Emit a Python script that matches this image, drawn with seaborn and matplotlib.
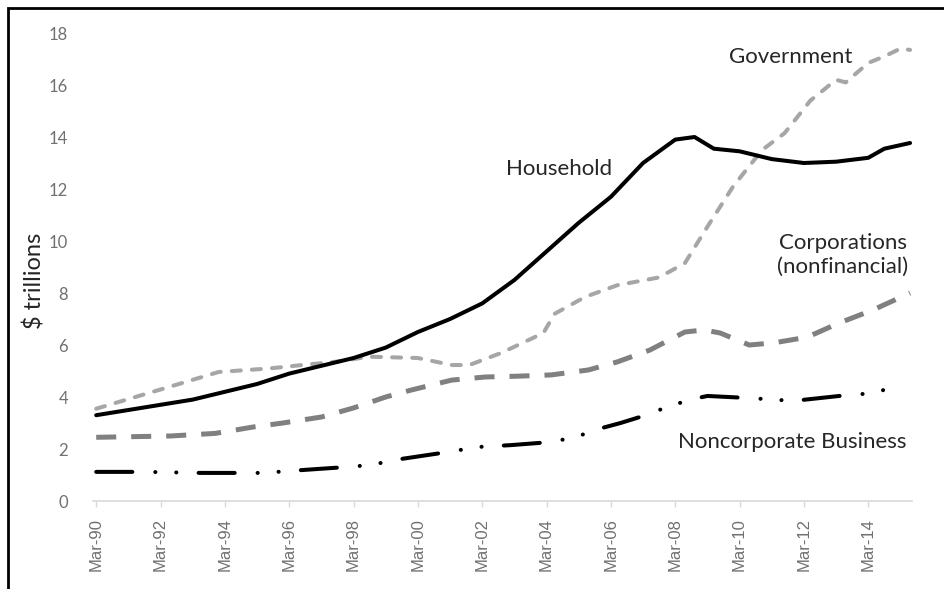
"""Debt outstanding by sector, 1990-2015."""

import matplotlib.pyplot as plt
import matplotlib.patches as mpatches
import seaborn as sns

sns.set_theme(style="white")
plt.rcParams["font.family"] = ["Lato", "DejaVu Sans"]
plt.rcParams["lines.scale_dashes"] = False

# x is years since Mar-1990
tick_pos = list(range(0, 25, 2))
tick_labels = ["Mar-90", "Mar-92", "Mar-94", "Mar-96", "Mar-98", "Mar-00", "Mar-02",
               "Mar-04", "Mar-06", "Mar-08", "Mar-10", "Mar-12", "Mar-14"]

household_x = [0, 1, 2, 3, 4, 5, 6, 7, 8, 9, 10, 11, 12, 13, 14, 15, 16, 17, 18, 18.6,
               19.2, 20, 21, 22, 23, 24, 24.5, 25.3]
household_y = [3.3, 3.5, 3.7, 3.9, 4.2, 4.5, 4.9, 5.2, 5.5, 5.9, 6.5, 7.0, 7.6, 8.5, 9.6,
               10.7, 11.7, 13.0, 13.9, 14.0, 13.55, 13.45, 13.15, 13.0, 13.05, 13.2, 13.55, 13.77]

government_x = [0, 2.3, 3.8, 5.4, 6.4, 7.4, 8.5, 10.0, 11.05, 11.6, 12.6, 13.9, 14.25, 15.2,
                16.2, 17.5, 18.3, 19.0, 19.8, 20.7, 21.4, 22.2, 23.0, 23.3, 24.0, 24.5, 25.0, 25.3]
government_y = [3.55, 4.4, 4.96, 5.1, 5.23, 5.35, 5.55, 5.5, 5.23, 5.23, 5.7, 6.46, 7.2, 7.85,
                8.3, 8.6, 9.15, 10.55, 12.1, 13.5, 14.15, 15.4, 16.2, 16.1, 16.85, 17.1, 17.4, 17.35]

corp_x = [0, 2.3, 3.7, 4.9, 5.8, 7.0, 8.0, 9.0, 9.8, 11.05, 12.1, 13.1, 14.15, 15.3, 16.2,
          17.2, 18.3, 18.9, 19.4, 20.3, 21.05, 22.1, 23.1, 24.15, 25.3]
corp_y = [2.45, 2.5, 2.6, 2.85, 3.0, 3.23, 3.58, 4.0, 4.27, 4.65, 4.77, 4.8, 4.85, 5.04, 5.35,
          5.8, 6.5, 6.58, 6.46, 6.0, 6.08, 6.3, 6.85, 7.35, 8.0]

noncorp_x = [0, 1.5, 3.3, 5.2, 6.4, 7.7, 8.5, 9.5, 10.75, 11.9, 12.9, 14.15, 14.9, 15.7, 16.3,
             16.9, 17.5, 18.4, 19.0, 20.3, 21.3, 21.9, 23.1, 24.15, 24.7]
noncorp_y = [1.12, 1.12, 1.08, 1.08, 1.19, 1.3, 1.38, 1.62, 1.85, 2.08, 2.15, 2.27, 2.46, 2.8,
             3.0, 3.23, 3.5, 3.88, 4.04, 3.96, 3.88, 3.88, 4.04, 4.15, 4.35]

fig = plt.figure(figsize=(9.45, 5.89), dpi=100)
ax = fig.add_axes([93 / 945, 1 - 501 / 589, (912 - 93) / 945, (501 - 33) / 589])

sns.lineplot(x=government_x, y=government_y, ax=ax, color="#a6a6a6", linewidth=2.9,
             linestyle=(0, (6.5, 8)), dash_capstyle="round", clip_on=False)
sns.lineplot(x=corp_x, y=corp_y, ax=ax, color="#808080", linewidth=3.6,
             linestyle=(0, (14.4, 10.8)), clip_on=False)
sns.lineplot(x=noncorp_x, y=noncorp_y, ax=ax, color="black", linewidth=2.9,
             linestyle=(0, (26, 16.5, 0.1, 15, 0.1, 16)), dash_capstyle="round", clip_on=False)
sns.lineplot(x=household_x, y=household_y, ax=ax, color="black", linewidth=2.9, clip_on=False)

ax.set_xlim(-0.1, 25.36)
ax.set_ylim(0, 18)
ax.set_yticks(range(0, 19, 2))
ax.set_xticks(tick_pos)
ax.set_xticklabels(tick_labels, rotation=90, family=["Liberation Sans", "DejaVu Sans"])

for side in ["top", "right", "left"]:
    ax.spines[side].set_visible(False)
ax.spines["bottom"].set_color("#d9d9d9")
ax.spines["bottom"].set_linewidth(1.2)
ax.tick_params(axis="x", bottom=True, length=4, width=1, color="#d9d9d9", pad=8,
               labelsize=12, labelcolor="#707070")
ax.tick_params(axis="y", left=False, pad=12, labelsize=12, labelcolor="#707070")

ax.set_ylabel("$ trillions", fontsize=17, color="#262626")
ax.yaxis.set_label_coords(-0.058, 0.47)

note_kw = dict(fontsize=16, color="#262626", ha="center", va="center")
ax.text(21.6, 17.08, "Government", **note_kw)
ax.text(14.4, 12.77, "Household", **note_kw)
ax.text(23.2, 9.47, "Corporations\n(nonfinancial)", linespacing=1.2, **note_kw)
ax.text(21.64, 2.27, "Noncorporate Business", **note_kw)

# image frame
fig.patches.append(mpatches.Rectangle((8 / 945, -0.1), 1.2, 1 - 8 / 589 + 0.1,
                                      transform=fig.transFigure, fill=False,
                                      edgecolor="black", linewidth=2))

fig.savefig("out.png", dpi=100)
